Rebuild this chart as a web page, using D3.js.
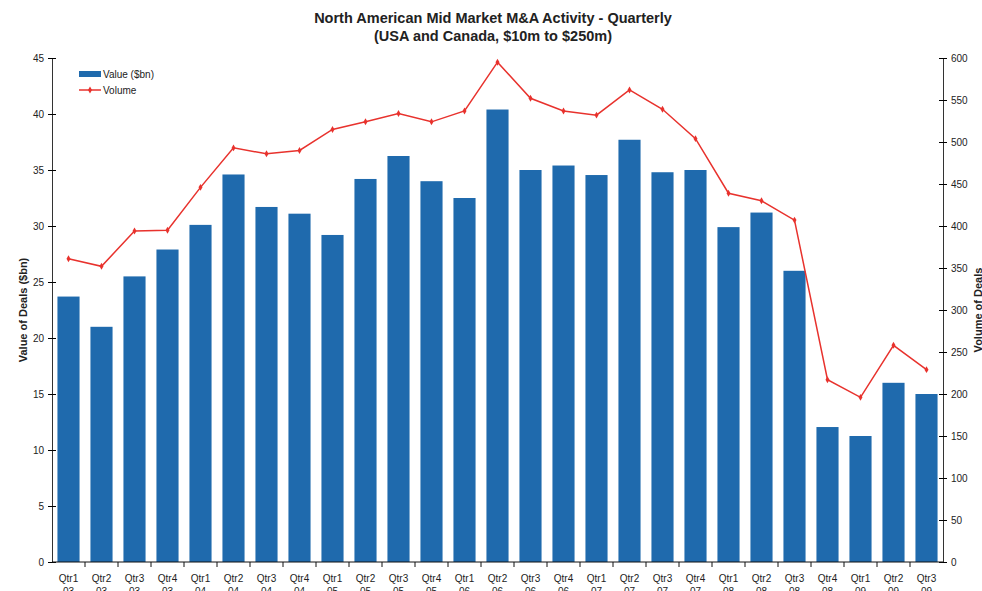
<!DOCTYPE html>
<html>
<head>
<meta charset="utf-8">
<script src="https://d3js.org/d3.v7.min.js"></script>
<style>
  body { margin: 0; background: #fff; }
  text { font-family: "Liberation Sans", Arial, sans-serif; fill: #222; }
</style>
</head>
<body>
<svg id="chart" width="982" height="591"></svg>
<script>
// quarters and year labels
const quarters = ["Qtr1","Qtr2","Qtr3","Qtr4","Qtr1","Qtr2","Qtr3","Qtr4","Qtr1","Qtr2","Qtr3","Qtr4",
  "Qtr1","Qtr2","Qtr3","Qtr4","Qtr1","Qtr2","Qtr3","Qtr4","Qtr1","Qtr2","Qtr3","Qtr4","Qtr1","Qtr2","Qtr3"];
const years = ["03","03","03","03","04","04","04","04","05","05","05","05",
  "06","06","06","06","07","07","07","07","08","08","08","08","09","09","09"];

// value of deals ($bn)
const values = [23.7, 21.0, 25.5, 27.9, 30.1, 34.6, 31.7, 31.1, 29.2, 34.2, 36.25, 34.0,
  32.5, 40.4, 35.0, 35.4, 34.55, 37.7, 34.8, 35.0, 29.9, 31.2, 26.0, 12.05, 11.25, 16.0, 15.0];

// volume of deals
const volumes = [361, 352, 394, 395, 446, 493, 486, 490, 515, 524, 534, 524,
  537, 595, 552, 537, 532, 562, 539, 504, 439, 430, 407, 217, 196, 258, 229];

const leftTicks = d3.range(0, 46, 5);
const rightTicks = d3.range(0, 601, 50);

const blue = "#1f6aad";
const red = "#e8322d";

const svg = d3.select("#chart");
const m = { left: 52, right: 943, top: 58, bottom: 562 };

const keys = quarters.map((q, i) => i);
const x = d3.scaleBand().domain(keys).range([m.left, m.right]).paddingInner(0.33).paddingOuter(0.165);
const yL = d3.scaleLinear().domain([0, 45]).range([m.bottom, m.top]);
const yR = d3.scaleLinear().domain([0, 600]).range([m.bottom, m.top]);

// title
svg.append("text").attr("x", 493).attr("y", 23).attr("text-anchor", "middle")
  .style("font-size", "14.5px").style("font-weight", "bold")
  .text("North American Mid Market M&A Activity - Quarterly");
svg.append("text").attr("x", 493).attr("y", 41).attr("text-anchor", "middle")
  .style("font-size", "14.5px").style("font-weight", "bold")
  .text("(USA and Canada, $10m to $250m)");

// bars
svg.append("g").selectAll("rect").data(values).join("rect")
  .attr("x", (d, i) => x(i))
  .attr("width", x.bandwidth())
  .attr("y", d => yL(d))
  .attr("height", d => yL(0) - yL(d))
  .attr("fill", blue);

// left axis
const gl = svg.append("g").attr("transform", `translate(${m.left},0)`)
  .call(d3.axisLeft(yL).tickValues(leftTicks).tickSize(4).tickSizeOuter(0));
gl.selectAll(".tick line").attr("x1", 4).attr("x2", -4);
gl.selectAll("text").attr("x", -8).style("font-size", "10px").style("font-family", "Liberation Sans, Arial");
gl.select(".domain").attr("stroke", "#333");

// right axis
const gr = svg.append("g").attr("transform", `translate(${m.right},0)`)
  .call(d3.axisRight(yR).tickValues(rightTicks).tickSize(4).tickSizeOuter(0));
gr.selectAll(".tick line").attr("x1", -4).attr("x2", 4);
gr.selectAll("text").attr("x", 8).style("font-size", "10px").style("font-family", "Liberation Sans, Arial");
gr.select(".domain").attr("stroke", "#333");

// bottom axis
svg.append("line").attr("x1", m.left).attr("x2", m.right)
  .attr("y1", m.bottom).attr("y2", m.bottom).attr("stroke", "#111");
const step = x.step();
svg.append("g").selectAll("line").data(d3.range(1, keys.length)).join("line")
  .attr("x1", i => x(i) - (step - x.bandwidth()) / 2)
  .attr("x2", i => x(i) - (step - x.bandwidth()) / 2)
  .attr("y1", m.bottom).attr("y2", m.bottom + 5).attr("stroke", "#111");
const xl = svg.append("g").selectAll("text").data(keys).join("text")
  .attr("x", i => x(i) + x.bandwidth() / 2)
  .attr("text-anchor", "middle").style("font-size", "10px");
xl.append("tspan").attr("x", i => x(i) + x.bandwidth() / 2).attr("y", 582).text(i => quarters[i]);
xl.append("tspan").attr("x", i => x(i) + x.bandwidth() / 2).attr("y", 595).text(i => years[i]);

// volume line
const line = d3.line().x((d, i) => x(i) + x.bandwidth() / 2).y(d => yR(d));
svg.append("path").datum(volumes).attr("d", line)
  .attr("fill", "none").attr("stroke", red).attr("stroke-width", 1.5);
const diamond = d3.symbol().type(d3.symbolDiamond).size(14);
svg.append("g").selectAll("path").data(volumes).join("path")
  .attr("d", diamond)
  .attr("transform", (d, i) => `translate(${x(i) + x.bandwidth() / 2},${yR(d)})`)
  .attr("fill", red);

// axis titles
svg.append("text").attr("transform", `translate(27,${(m.top + m.bottom) / 2}) rotate(-90)`)
  .attr("text-anchor", "middle").style("font-size", "11px").style("font-weight", "bold")
  .text("Value of Deals ($bn)");
svg.append("text").attr("transform", `translate(982,${(m.top + m.bottom) / 2}) rotate(-90)`)
  .attr("text-anchor", "middle").style("font-size", "11px").style("font-weight", "bold")
  .text("Volume of Deals");

// legend
const lg = svg.append("g");
lg.append("rect").attr("x", 79).attr("y", 71).attr("width", 22).attr("height", 6).attr("fill", blue);
lg.append("text").attr("x", 103).attr("y", 78).style("font-size", "10px").text("Value ($bn)");
lg.append("line").attr("x1", 79).attr("x2", 101).attr("y1", 90).attr("y2", 90)
  .attr("stroke", red).attr("stroke-width", 1.5);
lg.append("path").attr("d", diamond).attr("transform", "translate(90,90)").attr("fill", red);
lg.append("text").attr("x", 103).attr("y", 94).style("font-size", "10px").text("Volume");
</script>
</body>
</html>
